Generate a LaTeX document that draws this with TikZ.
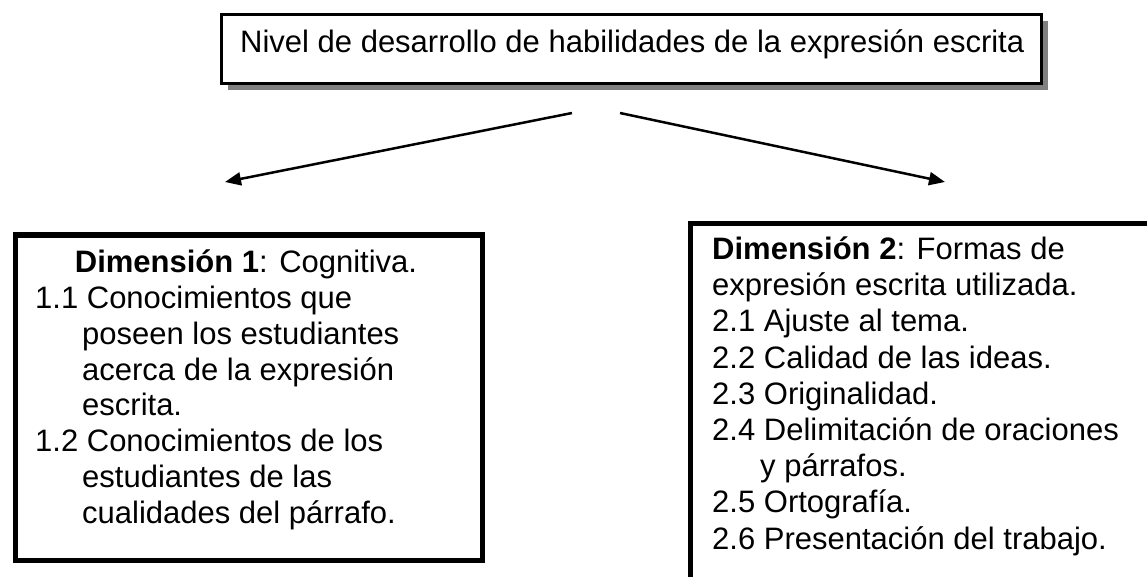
\documentclass[tikz,border=0pt]{standalone}
\usepackage{fontspec}
\setmainfont{Liberation Sans}
\usetikzlibrary{arrows.meta,shadows}
\begin{document}
\begin{tikzpicture}[x=1pt,y=-1pt,
  txt/.style={inner sep=0pt, font=\fontsize{31}{36}\selectfont},
  thickbox/.style={draw=black, line width=5pt, fill=white, inner sep=0pt},
  topbox/.style={draw=black, line width=3pt, fill=white, inner sep=0pt,
    drop shadow={shadow xshift=6pt, shadow yshift=-6pt, fill=black!50, opacity=1}},
  conn/.style={line width=2.5pt, -{Triangle[length=16pt,width=13pt]}}]
\useasboundingbox (0,0) rectangle (1147,577);
\clip (0,0) rectangle (1147,577);
\fill[white] (0,0) rectangle (1147,577);

% top box
\node[topbox, anchor=north west, minimum width=820pt, minimum height=69pt] (T) at (220,13.5) {};
\node[txt, anchor=base west] (Tt) at (240,53) {Nivel de desarrollo de habilidades de la expresión escrita};

% connectors
\coordinate (a1) at (572,113);
\coordinate (a2) at (225,182);
\coordinate (b1) at (620,113);
\coordinate (b2) at (945,182);
\draw[conn] (a1) -- (a2);
\draw[conn] (b1) -- (b2);

% left box
\node[thickbox, anchor=north west, minimum width=467pt, minimum height=325pt] (L) at (12.5,232.5) {};
\node[txt, anchor=base] (L1) at (246,272) {\textbf{Dimensión 1}: Cognitiva.};
\node[txt, anchor=base west] (L2) at (35,308) {1.1 Conocimientos que};
\node[txt, anchor=base west] (L3) at (82,344) {poseen los estudiantes};
\node[txt, anchor=base west] (L4) at (82,380) {acerca de la expresión};
\node[txt, anchor=base west] (L5) at (82,415) {escrita.};
\node[txt, anchor=base west] (L6) at (35,451) {1.2 Conocimientos de los};
\node[txt, anchor=base west] (L7) at (82,487) {estudiantes de las};
\node[txt, anchor=base west] (L8) at (82,523) {cualidades del párrafo.};

% right box (cropped by the page)
\node[thickbox, anchor=north west, minimum width=600pt, minimum height=420pt] (R) at (687.5,221.5) {};
\node[txt, anchor=base west] (R1) at (712,259) {\textbf{Dimensión 2}: Formas de};
\node[txt, anchor=base west] (R2) at (712,295) {expresión escrita utilizada.};
\node[txt, anchor=base west] (R3) at (712,331) {2.1 Ajuste al tema.};
\node[txt, anchor=base west] (R4) at (712,368) {2.2 Calidad de las ideas.};
\node[txt, anchor=base west] (R5) at (712,404) {2.3 Originalidad.};
\node[txt, anchor=base west] (R6) at (712,440) {2.4 Delimitación de oraciones};
\node[txt, anchor=base west] (R7) at (760,476) {y párrafos.};
\node[txt, anchor=base west] (R8) at (712,512) {2.5 Ortografía.};
\node[txt, anchor=base west] (R9) at (712,549) {2.6 Presentación del trabajo.};
\end{tikzpicture}
\end{document}
